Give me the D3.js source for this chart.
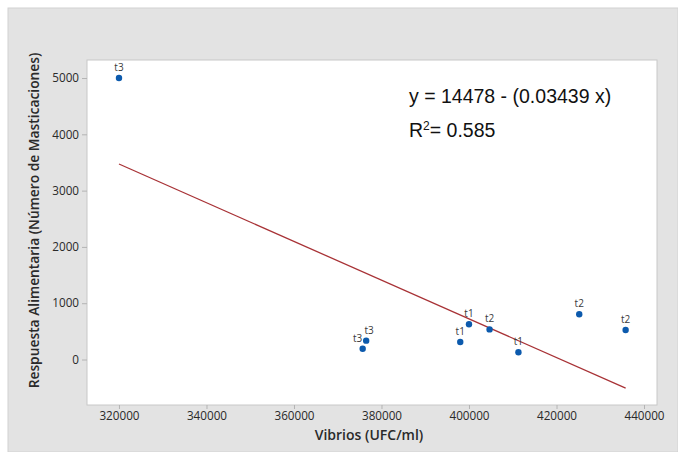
<!DOCTYPE html>
<html>
<head>
<meta charset="utf-8">
<script src="https://cdn.jsdelivr.net/npm/d3@7"></script>
<style>
  body { margin: 0; background: #fff; }
  svg { display: block; }
</style>
</head>
<body>
<svg width="678" height="452"></svg>
<script>
// point data
var vibrios = [320000, 375700, 376500, 398000, 400000, 404700, 411300, 425200, 435800];
var respuesta = [5000, 190, 335, 310, 625, 535, 130, 805, 525];
var labels = ["t3", "t3", "t3", "t1", "t1", "t2", "t1", "t2", "t2"];
var xTicks = [320000, 340000, 360000, 380000, 400000, 420000, 440000];
var yTicks = [0, 1000, 2000, 3000, 4000, 5000];
var intercept = 14478, slope = -0.03439;

var svg = d3.select("svg"),
    margin = {top: 60, right: 21, bottom: 47, left: 87},
    width = +svg.attr("width") - margin.left - margin.right,
    height = +svg.attr("height") - margin.top - margin.bottom;

// grey panel behind everything
svg.append("rect")
    .attr("x", 8).attr("y", 8)
    .attr("width", 670).attr("height", 444)
    .attr("fill", "#e3e3e3")
    .attr("stroke", "#d2d2d2");

var g = svg.append("g").attr("transform", "translate(" + margin.left + "," + margin.top + ")");

var x = d3.scaleLinear()
    .domain([312690, 442970])
    .range([0, width]);

var y = d3.scaleLinear()
    .domain([-808, 5320])
    .range([height, 0]);

g.append("rect")
    .attr("width", width).attr("height", height)
    .attr("fill", "#fff")
    .attr("stroke", "#c8c8c8");

var xAxis = g.append("g")
    .attr("transform", "translate(0," + height + ")")
    .call(d3.axisBottom(x).tickValues(xTicks).tickFormat(d3.format("d")).tickSize(4).tickPadding(3));

var yAxis = g.append("g")
    .call(d3.axisLeft(y).tickValues(yTicks).tickFormat(d3.format("d")).tickSize(5).tickPadding(3));

[xAxis, yAxis].forEach(function(a) {
  a.select(".domain").remove();
  a.selectAll(".tick line").attr("stroke", "#b4b4b4");
  a.selectAll(".tick text")
      .attr("fill", "#2a2a2a")
      .style("font-family", "'Open Sans', sans-serif")
      .style("font-size", "11.7px");
});

g.append("text")
    .attr("x", width / 2 - 3)
    .attr("y", height + 35)
    .attr("text-anchor", "middle")
    .attr("fill", "#2a2a2a")
    .style("font-family", "'Open Sans', sans-serif")
    .style("font-size", "14px")
    .style("font-weight", "600")
    .text("Vibrios (UFC/ml)");

g.append("text")
    .attr("transform", "translate(-48," + (height / 2 - 12) + ") rotate(-90)")
    .attr("text-anchor", "middle")
    .attr("fill", "#2a2a2a")
    .style("font-family", "'Open Sans', sans-serif")
    .style("font-size", "13.8px")
    .style("font-weight", "600")
    .text("Respuesta Alimentaria (Número de Masticaciones)");

// fitted line over the data range
var x0 = d3.min(vibrios), x1 = d3.max(vibrios);
var fit = [{v: x0, r: intercept + slope * x0}, {v: x1, r: intercept + slope * x1}];

var line = d3.line()
    .x(function(d) { return x(d.v); })
    .y(function(d) { return y(d.r); });

g.append("path")
    .datum(fit)
    .attr("fill", "none")
    .attr("stroke", "#a83236")
    .attr("stroke-width", 1.3)
    .attr("d", line);

var pts = vibrios.map(function(v, i) { return {v: v, r: respuesta[i], label: labels[i]}; });

g.selectAll(".dot")
  .data(pts)
  .enter().append("circle")
    .attr("class", "dot")
    .attr("cx", line.x())
    .attr("cy", line.y())
    .attr("r", 3.2)
    .attr("fill", "#0c5aad");

// the two close t3 points: spread their labels sideways so they do not collide
var nudge = {1: -5, 2: 3};

g.selectAll(".lbl")
  .data(pts)
  .enter().append("text")
    .attr("class", "lbl")
    .attr("x", function(d, i) { return x(d.v) + (nudge[i] || 0); })
    .attr("y", function(d) { return y(d.r) - 7; })
    .attr("text-anchor", "middle")
    .attr("fill", "#3a3a3a")
    .style("font-family", "'Open Sans', sans-serif")
    .style("font-size", "10px")
    .text(function(d) { return d.label; });

// equation text
var eq = svg.append("g")
    .style("font-family", "'Liberation Sans', Arial, sans-serif")
    .style("font-size", "19.5px")
    .attr("fill", "#111");

eq.append("text")
    .attr("x", 409).attr("y", 103)
    .text("y = " + intercept + " - (" + (-slope) + " x)");

var r2 = eq.append("text").attr("x", 409).attr("y", 137);
r2.append("tspan").text("R");
r2.append("tspan").attr("dy", -7).style("font-size", "12px").text("2");
r2.append("tspan").attr("dy", 7).text("= 0.585");
</script>
</body>
</html>
